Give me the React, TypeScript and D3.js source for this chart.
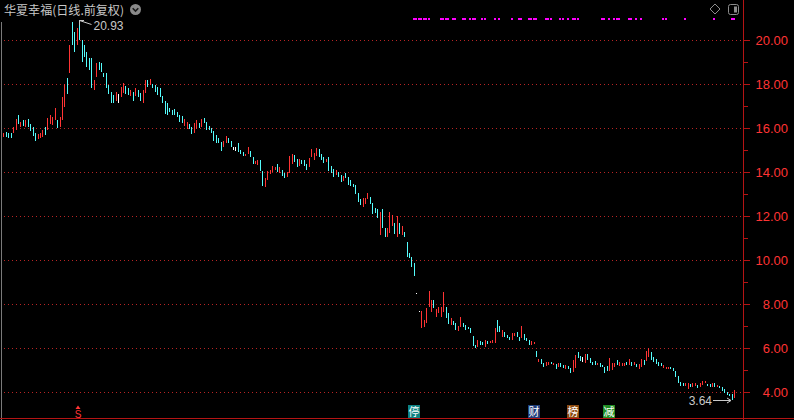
import React from 'react';
import * as d3 from 'd3';

// daily bars (price units)
const highs = [
  15.79, 15.83, 15.77, 15.76, 16.03, 16.42, 16.59, 16.29, 16.36, 16.36,
  16.41, 16.18, 16.03, 15.76, 15.73, 15.79, 15.91, 16.06, 16.44, 16.59,
  16.49, 16.9, 16.36, 16.51, 17.4, 18.0, 18.26, 19.77, 20.83, 20.38,
  20.53, 20.93, 20.0, 19.77, 19.47, 19.18, 19.18, 18.18, 18.97, 19.01,
  18.94, 18.51, 18.51, 17.95, 17.65, 17.5, 17.65, 17.55, 17.88, 18.06,
  17.91, 17.8, 17.73, 17.65, 17.8, 17.73, 17.6, 17.73, 18.18, 18.18,
  18.21, 18.0, 17.95, 17.88, 17.8, 17.45, 17.24, 17.15, 16.9, 16.82,
  16.85, 16.74, 16.59, 16.55, 16.4, 16.29, 16.18, 16.06, 16.23, 16.36,
  16.21, 16.4, 16.44, 16.29, 16.09, 15.99, 15.88, 15.68, 15.53, 15.38,
  15.42, 15.64, 15.53, 15.42, 15.12, 15.12, 15.33, 15.0, 14.92, 14.82,
  15.12, 14.97, 14.67, 14.5, 14.55, 14.55, 14.06, 13.71, 14.06, 14.09,
  14.27, 14.24, 14.36, 14.21, 14.09, 13.97, 14.01, 14.73, 14.82, 14.77,
  14.58, 14.58, 14.55, 14.55, 14.36, 14.62, 15.03, 14.85, 15.08, 15.03,
  14.82, 14.67, 14.58, 14.67, 14.27, 14.12, 14.09, 14.01, 13.86, 13.82,
  13.94, 13.76, 13.64, 13.45, 13.41, 13.06, 12.76, 12.8, 12.8, 13.03,
  12.88, 12.6, 12.35, 12.3, 12.2, 12.32, 11.44, 11.44, 12.2, 12.05,
  11.67, 12.0, 11.67, 11.55, 11.29, 10.83, 10.33, 10.15, 9.88, 8.5,
  7.67, 7.7, 7.27, 7.8, 8.6, 8.18, 8.18, 7.76, 7.88, 7.88,
  8.56, 7.88, 7.6, 7.35, 7.24, 7.15, 7.0, 7.4, 7.15, 7.05,
  6.97, 6.9, 6.55, 6.14, 6.36, 6.33, 6.29, 6.36, 6.33, 6.33,
  6.36, 6.9, 7.27, 7.0, 6.82, 6.74, 6.59, 6.51, 6.7, 6.7,
  6.74, 6.49, 7.0, 6.64, 6.44, 6.36, 6.33, 6.29, 5.88, 5.49,
  5.49, 5.33, 5.36, 5.36, 5.36, 5.33, 5.27, 5.3, 5.3, 5.22,
  5.23, 5.18, 5.08, 5.45, 5.68, 5.83, 5.64, 5.58, 5.75, 5.73,
  5.53, 5.38, 5.42, 5.33, 5.3, 5.23, 5.15, 5.18, 5.53, 5.3,
  5.33, 5.45, 5.38, 5.33, 5.33, 5.38, 5.49, 5.38, 5.38, 5.26,
  5.27, 5.49, 5.45, 5.88, 5.99, 5.83, 5.6, 5.49, 5.35, 5.3,
  5.23, 5.15, 5.15, 5.15, 5.08, 4.97, 4.73, 4.47, 4.4, 4.4,
  4.4, 4.36, 4.4, 4.42, 4.32, 4.42, 4.51, 4.51, 4.36, 4.36,
  4.4, 4.42, 4.32, 4.27, 4.21, 4.12, 4.01, 3.91, 3.91, 4.09,
];

const lows = [
  15.58, 15.6, 15.55, 15.53, 15.76, 15.91, 16.18, 16.03, 16.09, 16.03,
  16.06, 15.88, 15.64, 15.42, 15.49, 15.53, 15.6, 15.68, 15.91, 16.18,
  16.14, 16.36, 15.99, 16.03, 16.36, 16.94, 17.55, 18.51, 19.77, 19.47,
  19.77, 20.0, 19.01, 19.24, 18.79, 18.64, 17.8, 17.73, 18.3, 18.64,
  18.56, 18.33, 17.8, 17.55, 17.15, 17.15, 17.24, 17.15, 17.42, 17.58,
  17.55, 17.5, 17.45, 17.24, 17.45, 17.4, 17.24, 17.15, 17.6, 17.88,
  17.95, 17.8, 17.65, 17.5, 17.42, 17.12, 16.64, 16.59, 16.74, 16.59,
  16.59, 16.51, 16.29, 16.24, 16.09, 15.94, 15.94, 15.73, 15.79, 15.95,
  15.99, 16.06, 16.21, 15.91, 15.91, 15.79, 15.42, 15.33, 15.3, 14.97,
  15.12, 15.33, 15.33, 15.12, 15.0, 14.97, 14.92, 14.82, 14.73, 14.73,
  14.82, 14.67, 14.36, 14.36, 14.32, 14.06, 13.36, 13.33, 13.64, 13.91,
  14.01, 14.09, 14.01, 13.94, 13.82, 13.71, 13.76, 13.97, 14.36, 14.47,
  14.24, 14.27, 14.36, 14.27, 14.09, 14.21, 14.67, 14.55, 14.73, 14.7,
  14.55, 14.42, 14.47, 14.06, 13.97, 13.79, 13.86, 13.76, 13.56, 13.6,
  13.71, 13.41, 13.36, 13.33, 13.0, 12.65, 12.5, 12.42, 12.55, 12.76,
  12.55, 12.09, 12.15, 11.9, 11.14, 11.44, 11.06, 11.03, 11.21, 11.55,
  11.18, 11.06, 11.18, 11.14, 11.06, 10.15, 10.08, 9.7, 9.27, 8.47,
  7.64, 6.92, 6.97, 7.12, 7.88, 7.65, 7.8, 7.4, 7.58, 7.42,
  7.65, 7.35, 7.09, 7.05, 7.05, 6.82, 6.79, 6.97, 6.94, 6.82,
  6.85, 6.7, 6.09, 5.99, 6.03, 6.14, 6.14, 6.06, 6.18, 6.21,
  6.24, 6.24, 6.74, 6.74, 6.49, 6.51, 6.44, 6.36, 6.36, 6.55,
  6.51, 6.33, 6.44, 6.36, 6.33, 6.14, 6.14, 6.18, 5.6, 5.36,
  5.27, 5.15, 5.18, 5.23, 5.27, 5.24, 5.06, 5.12, 5.15, 5.09,
  5.06, 5.03, 4.88, 4.92, 5.08, 5.53, 5.42, 5.38, 5.33, 5.45,
  5.33, 5.23, 5.23, 5.23, 5.15, 5.12, 4.88, 4.97, 4.97, 5.0,
  5.12, 5.23, 5.18, 5.18, 5.18, 5.23, 5.23, 5.18, 5.23, 5.12,
  5.03, 5.12, 5.23, 5.42, 5.6, 5.45, 5.38, 5.27, 5.18, 5.18,
  5.08, 5.03, 5.03, 5.03, 4.97, 4.7, 4.42, 4.27, 4.27, 4.27,
  4.12, 4.24, 4.21, 4.27, 4.17, 4.24, 4.32, 4.4, 4.27, 4.24,
  4.24, 4.21, 4.21, 4.17, 4.06, 3.94, 3.86, 3.82, 3.64, 3.71,
];

// r = up (red), c = down (cyan), w = flat (white)
const trend = [
  'rcccrrcrcr', 'ccccrrrcrr', 'rrcrrrcrcc', 'rccccccrrc', 'ccccccrwrr',
  'ccrcrccrrc', 'rccccccccc', 'ccccrrccrr', 'crcccccccc', 'rrccwwcccr',
  'rccrrccrrr', 'rrcrccrrrc', 'crcccrrrrc', 'ccrcccrccr', 'cccccccrrr',
  'ccccrccrrr', 'crcrcccccw', 'wrrrrrcrrr', 'rccrccrrcc', 'ccccrccrcr',
  'rrccrcccrr', 'ccrcccrrcr', 'ccrrcrcrcc', 'rccrrccwrc', 'cccrccccrr',
  'rcrrrcrcrc', 'rrcrrccccc', 'rrrccccccr', 'rcrrcrrrcc', 'rcrccccccr',
].join('').split('');

const priceTicks = d3.range(4, 21, 1);
const signalBars = [
  169, 170, 171, 172, 173, 174, 175, 180, 181, 182, 183, 185, 186, 189, 190,
  192, 193, 194, 197, 198, 202, 204, 209, 212, 213, 216, 217, 218, 219, 223,
  224, 225, 229, 230, 232, 234, 235, 236, 246, 247, 249, 251, 252, 253, 257,
  258, 260, 262, 271, 272, 280, 292, 299, 300,
];
const eventBars = [169, 218, 234, 249];
const eventLabels = ['停', '财', '榜', '减'];
const eventColors = ['#0c8282', '#1f3d7a', '#8c4a10', '#1e8c24'];
const title = '华夏幸福(日线.前复权)';
const maxLabel = '20.93';
const minLabel = '3.64';

const RED = '#ff3434';
const CYAN = '#54fcfc';
const AXIS = '#b41414';
const GRID = '#b82424';
const TXT = '#c8c8c8';
const NUM_FONT = '"Liberation Sans", Arial, sans-serif';
const CJK_FONT = '"Noto Sans CJK SC", sans-serif';

export default function App() {
  const n = highs.length;
  const x = d3.scalePoint<number>().domain(d3.range(n)).range([3.3, 734]);
  const y = d3.scaleLinear().domain([4, 20]).range([392, 40]);
  const axisX = 743.5;

  const colorOf = (t: string) => (t === 'r' ? RED : t === 'w' ? '#ffffff' : CYAN);

  const hiIdx = d3.maxIndex(highs);
  const loIdx = d3.minIndex(lows);
  const hx = Math.round(x(hiIdx)!) + 0.5;
  const hy = Math.round(y(highs[hiIdx])) + 0.5;
  const lx = Math.round(x(loIdx)!) - 1;
  const ly = Math.round(y(lows[loIdx])) + 0.5;
  const sx = Math.round(x(30)!) + 1;

  return (
    <div style={{ position: 'absolute', left: 0, top: 0, width: 794, height: 420, background: '#000' }}>
      <svg width={794} height={420} style={{ display: 'block' }}>
        <rect x={0} y={0} width={794} height={420} fill="#000" />

        {/* grid */}
        {priceTicks.filter((t) => t % 2 === 0).map((t) => (
          <line
            key={'g' + t}
            x1={4}
            x2={axisX - 1}
            y1={Math.round(y(t)) + 0.5}
            y2={Math.round(y(t)) + 0.5}
            stroke={GRID}
            strokeDasharray="1 3"
            shapeRendering="crispEdges"
          />
        ))}

        {/* frame */}
        <line x1={1.5} x2={1.5} y1={22} y2={420} stroke="#7a7a7a" shapeRendering="crispEdges" />
        <line x1={axisX} x2={axisX} y1={0} y2={420} stroke={AXIS} shapeRendering="crispEdges" />
        <line x1={0} x2={794} y1={418.5} y2={418.5} stroke={AXIS} shapeRendering="crispEdges" />

        {/* price axis */}
        {priceTicks.map((t) => (
          <line
            key={'t' + t}
            x1={axisX}
            x2={axisX + (t % 2 === 0 ? 6 : 4)}
            y1={Math.round(y(t)) + 0.5}
            y2={Math.round(y(t)) + 0.5}
            stroke={AXIS}
            shapeRendering="crispEdges"
          />
        ))}
        {priceTicks.filter((t) => t % 2 === 0).map((t) => (
          <text
            key={'l' + t}
            x={788}
            y={y(t) + 4.5}
            textAnchor="end"
            fill={RED}
            fontSize={13}
            fontFamily={NUM_FONT}
          >
            {t.toFixed(2)}
          </text>
        ))}

        {/* candles */}
        {highs.map((h, i) => {
          const top = y(h);
          const bot = y(lows[i]);
          return (
            <rect
              key={'c' + i}
              x={Math.round(x(i)!)}
              y={Math.round(top)}
              width={1}
              height={Math.max(1, Math.round(bot) - Math.round(top))}
              fill={colorOf(trend[i])}
              shapeRendering="crispEdges"
            />
          );
        })}

        {/* signal dots */}
        {signalBars.map((b) => (
          <rect
            key={'s' + b}
            x={Math.round(x(b - 1)!) - 1}
            y={18}
            width={2}
            height={2}
            fill="#ff00ff"
            shapeRendering="crispEdges"
          />
        ))}

        {/* max / min labels */}
        <path d={`M${hx},${hy + 5} V${hy} H${hx + 4.5} M${hx},${hy} L${hx + 12},${hy + 4}`} stroke={TXT} fill="none" />
        <text x={hx + 14} y={hy + 9.5} fill={TXT} fontSize={12} fontFamily={NUM_FONT}>
          {maxLabel}
        </text>
        <path d={`M${lx - 18},${ly} H${lx} M${lx - 4},${ly - 2.5} L${lx},${ly} L${lx - 4},${ly + 2.5}`} stroke={TXT} fill="none" />
        <text x={lx - 19} y={ly + 4.5} textAnchor="end" fill={TXT} fontSize={12} fontFamily={NUM_FONT}>
          {minLabel}
        </text>

        {/* title */}
        <text x={4} y={14.5} fill={TXT} fontSize={12} fontFamily={CJK_FONT} textLength={120} lengthAdjust="spacingAndGlyphs">
          {title}
        </text>
        <circle cx={135.5} cy={9.5} r={5.5} fill="#8a8a8a" />
        <path d="M132.7,8.2 L135.5,11 L138.3,8.2" stroke="#1a1a1a" strokeWidth={1.6} fill="none" />

        {/* top-right icons */}
        <path d="M715,4 L720,9 L715,14 L710,9 Z" stroke="#8c8c8c" fill="none" />
        <rect x={728.5} y={4.5} width={10} height={10} rx={2} stroke="#8c8c8c" fill="none" />
        <rect x={734} y={6.5} width={3} height={6} fill="#8c8c8c" />

        {/* bottom event markers */}
        <path d={`M${sx},405.5 L${sx - 2.5},409 L${sx + 2.5},409 Z`} fill={RED} />
        <text x={sx} y={417.5} textAnchor="middle" fill={RED} fontSize={10} fontFamily={NUM_FONT}>
          S
        </text>
        {eventBars.map((b, k) => {
          const cx = Math.round(x(b - 1)!);
          return (
            <g key={'e' + k}>
              <rect x={cx - 6} y={405} width={12} height={13} fill={eventColors[k]} />
              <text x={cx} y={416} textAnchor="middle" fill="#ffffff" fontSize={11} fontFamily={CJK_FONT}>
                {eventLabels[k]}
              </text>
            </g>
          );
        })}
      </svg>
    </div>
  );
}
